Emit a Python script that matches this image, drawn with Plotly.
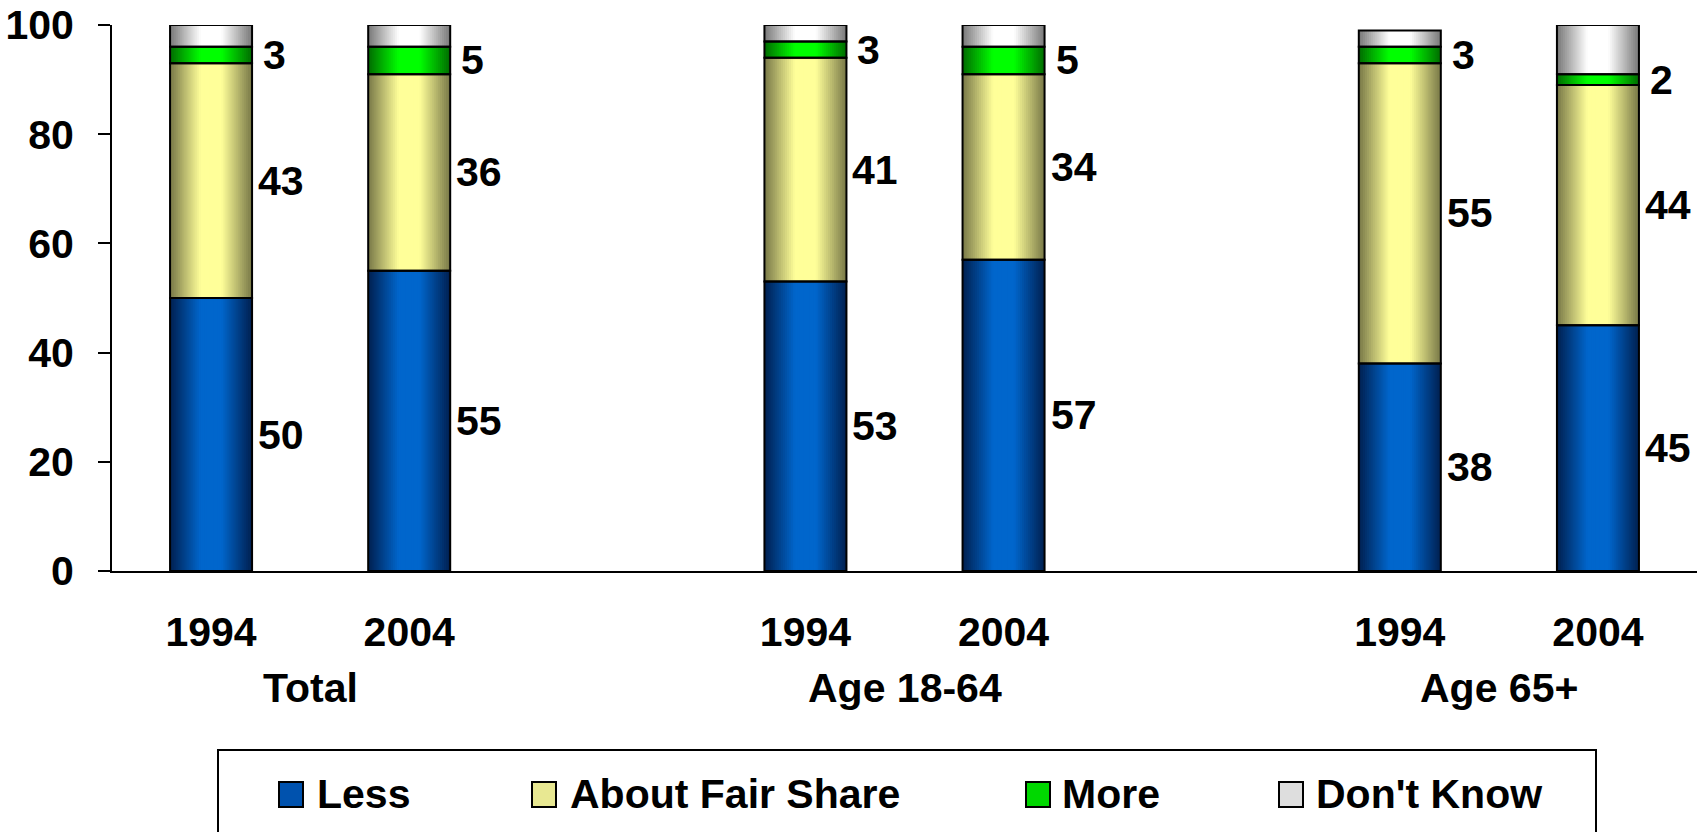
import numpy as np
import plotly.graph_objects as go

# ---------------- data ----------------
groups = ["Total", "Age 18-64", "Age 65+"]
years = ["1994", "2004"]
series = ["Less", "About Fair Share", "More", "Don't Know"]
# values per bar in order: Total 1994, Total 2004, 18-64 1994, 18-64 2004, 65+ 1994, 65+ 2004
less = [50, 55, 53, 57, 38, 45]
fair_share = [43, 36, 41, 34, 55, 44]
more = [3, 5, 3, 5, 3, 2]
dont_know = [4, 4, 3, 4, 3, 9]
y_ticks = [0, 20, 40, 60, 80, 100]

# ---------------- styling ----------------
FONT = "Liberation Sans"
FS = 41
W, H = 1706, 832
L, R, T, B = 112, 1697, 25, 571          # plot area in pixels
BAR_W = 0.414

edge_cols = {
    "Less": (0, 34, 84),
    "About Fair Share": (124, 124, 74),
    "More": (0, 112, 0),
    "Don't Know": (124, 124, 124),
}
center_cols = {
    "Less": (0, 102, 204),
    "About Fair Share": (255, 255, 153),
    "More": (0, 255, 0),
    "Don't Know": (255, 255, 255),
}
flat_cols = {
    "Less": "#0052ae",
    "About Fair Share": "#e8e892",
    "More": "#00d800",
    "Don't Know": "#dedede",
}

# bar positions: groups separated by one empty slot
xpos = []
ticktext = []
for gi, g in enumerate(groups):
    for yi, yr in enumerate(years):
        xpos.append(gi * (len(years) + 1) + yi)
        ticktext.append(yr)
xpos = np.array(xpos, dtype=float)

vals = {
    "Less": np.array(less, float),
    "About Fair Share": np.array(fair_share, float),
    "More": np.array(more, float),
    "Don't Know": np.array(dont_know, float),
}
bases = {}
cum = np.zeros(len(xpos))
for s in series:
    bases[s] = cum.copy()
    cum = cum + vals[s]

fig = go.Figure()

# gradient layers (overlayed centred bars of decreasing width)
N = 20
for s in series:
    e = np.array(edge_cols[s], float)
    c = np.array(center_cols[s], float)
    for k in range(N):
        t = k / N
        f = min(1.0, t / 0.72)
        col = e + (c - e) * f
        w = BAR_W * (1 - k / N)
        fig.add_trace(go.Bar(
            x=xpos.tolist(), y=vals[s].tolist(), base=bases[s].tolist(),
            width=w, offset=-w / 2,
            marker=dict(color="rgb(%d,%d,%d)" % tuple(int(v) for v in col.round()),
                        line=dict(width=0)),
            showlegend=False, hoverinfo="skip",
        ))

# outlines on top
for s in series:
    fig.add_trace(go.Bar(
        x=xpos.tolist(), y=vals[s].tolist(), base=bases[s].tolist(),
        width=BAR_W, offset=-BAR_W / 2, name=s,
        marker=dict(color="rgba(0,0,0,0)", line=dict(color="black", width=2)),
        showlegend=False,
        hovertemplate=s + ": %{y}<extra></extra>",
    ))

annotations = []
# value labels at segment midpoints, right of bars (all but Don't Know)
for s in ["Less", "About Fair Share", "More"]:
    for i in range(len(xpos)):
        v = vals[s][i]
        txt = "%d" % v
        annotations.append(dict(
            x=xpos[i] + BAR_W / 2, y=bases[s][i] + v / 2,
            xref="x", yref="y", text=txt, showarrow=False,
            xanchor="left", yanchor="middle",
            xshift=4 if len(txt) > 1 else 9,
            font=dict(family=FONT, size=FS, color="black", weight="bold"),
        ))

PW, PH = R - L, B - T
def px(p):
    return (p - L) / PW
def py(p):
    return (B - p) / PH

# group labels
for gi, g in enumerate(groups):
    xc = xpos[gi * len(years):(gi + 1) * len(years)].mean()
    annotations.append(dict(
        x=xc, y=py(688), xref="x", yref="paper", text=g, showarrow=False,
        xanchor="center", yanchor="middle",
        font=dict(family=FONT, size=FS, color="black", weight="bold"),
    ))

# manual legend
shapes = [dict(type="rect", xref="paper", yref="paper",
               x0=px(218), x1=px(1596), y0=py(750), y1=py(845),
               line=dict(color="black", width=2), fillcolor="rgba(0,0,0,0)", layer="above")]
leg_sw = [279, 532, 1026, 1279]
leg_tx = [315, 568, 1060, 1314]
for s, sx, tx in zip(series, leg_sw, leg_tx):
    shapes.append(dict(type="rect", xref="paper", yref="paper",
                       x0=px(sx), x1=px(sx + 24), y0=py(782), y1=py(807),
                       line=dict(color="black", width=2), fillcolor=flat_cols[s]))
    annotations.append(dict(
        x=px(tx), y=py(794), xref="paper", yref="paper", text=s, showarrow=False,
        xanchor="left", yanchor="middle",
        font=dict(family=FONT, size=FS, color="black", weight="bold"),
    ))

fig.update_layout(
    width=W, height=H,
    margin=dict(l=L, r=W - R, t=T, b=H - B, pad=0),
    barmode="overlay",
    plot_bgcolor="white", paper_bgcolor="white",
    font=dict(family=FONT, size=FS, color="black", weight="bold"),
    annotations=annotations, shapes=shapes,
    showlegend=False,
)
fig.update_xaxes(
    range=[-0.5, len(groups) * (len(years) + 1) - 1 - 0.5],
    tickmode="array", tickvals=xpos.tolist(), ticktext=ticktext,
    showline=True, linecolor="black", linewidth=2,
    ticks="", showgrid=False, zeroline=False, automargin=False,
    ticklabelstandoff=24,
    tickfont=dict(family=FONT, size=FS, color="black", weight="bold"),
)
fig.update_yaxes(
    range=[0, 100], tickmode="array", tickvals=y_ticks,
    showline=True, linecolor="black", linewidth=2,
    ticks="outside", ticklen=12, tickwidth=2, tickcolor="black",
    showgrid=False, zeroline=False, automargin=False, ticklabelstandoff=16,
    tickfont=dict(family=FONT, size=FS, color="black", weight="bold"),
)

fig.write_html(
    "out.html",
    config={"displayModeBar": False},
    post_script="document.body.style.margin='0';document.body.style.overflow='hidden';",
)
